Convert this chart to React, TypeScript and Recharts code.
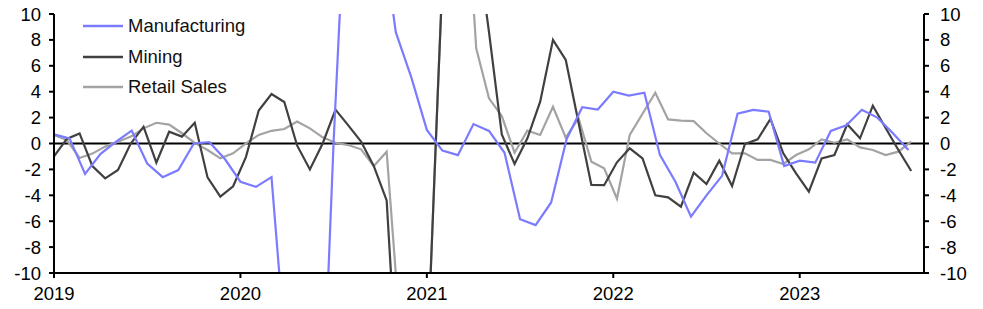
import React from 'react';
import { LineChart, Line, XAxis, YAxis, ReferenceLine } from 'recharts';

// monthly, Jan 2019 .. Aug 2023 (primary x axis)
const manufacturing = [
  0.7, 0.4, -2.35, -0.8, 0.15, 1.0, -1.55, -2.6, -2.05, 0.0, 0.1, -1.2,
  -2.95, -3.35, -2.6, -17.4, -24, -30, 0.2, 25, 26, 17.4, 8.6, 5.1,
  1.05, -0.55, -0.9, 1.5, 0.97, -0.72, -5.85, -6.3, -4.55, 0.35, 2.8, 2.62,
  4.0, 3.7, 3.92, -0.88, -2.95, -5.65, -4.0, -2.5, 2.3, 2.6, 2.45, -1.74,
  -1.33, -1.48, 0.97, 1.4, 2.6, 2.0, 0.8, -0.5,
];

// secondary series, plotted on their own (hidden) category axis
const mining = [
  -1.0, 0.35, 0.78, -1.74, -2.69, -2.05, 0.0, 1.3, -1.48, 0.91, 0.53, 1.6,
  -2.62, -4.1, -3.3, -1.05, 2.55, 3.82, 3.2, -0.15, -2.0, 0.0, 2.62, 1.4,
  0.15, -1.75, -4.4, -21, -25, -21, 4, 28, 25, 16, 8.6, 0.7,
  -1.58, 0.4, 3.23, 8.0, 6.45, 1.6, -3.2, -3.22, -1.45, -0.37, -1.15, -4.0,
  -4.16, -4.88, -2.25, -3.13, -1.33, -3.28, -0.04, 0.32, 1.9, -0.76, -2.3, -3.72,
  -1.15, -0.89, 1.48, 0.4, 2.92, 1.2, -0.5, -2.12,
];

const retailSales = [
  0.66, 0.27, -1.12, -0.78, -0.24, 0.14, 0.53, 1.17, 1.6, 1.46, 0.79, 0.05,
  -0.5, -1.15, -0.76, 0.0, 0.66, 0.98, 1.12, 1.69, 1.17, 0.48, 0.06, -0.12,
  -0.45, -1.74, -0.63, -13.8, -22, -21, 4, 28, 23, 7.35, 3.49, 2.12,
  -0.71, 0.99, 0.66, 2.84, 0.45, 1.95, -1.4, -1.92, -4.27, 0.66, 2.3, 3.92,
  1.86, 1.76, 1.73, 0.79, 0.0, -0.76, -0.76, -1.27, -1.27, -1.58, -0.89, -0.45,
  0.32, 0.06, 0.32, -0.3, -0.5, -0.89, -0.63, 0.14,
];

const years = ['2019', '2020', '2021', '2022', '2023'];
const yTicks = [-10, -8, -6, -4, -2, 0, 2, 4, 6, 8, 10];

const series = [
  { name: 'Manufacturing', color: '#7b7bff' },
  { name: 'Mining', color: '#404040' },
  { name: 'Retail Sales', color: '#a3a3a3' },
];

const FONT = '"Liberation Sans", Arial, sans-serif';
const FS = 18.5;

const toRows = (vals: number[]) => vals.map((v, i) => ({ x: i, v }));

export default function App() {
  const mfg = toRows(manufacturing);
  const min = toRows(mining);
  const ret = toRows(retailSales);

  // pull the chart up over the body margin so the top tick labels are not clipped
  return (
    <div style={{ position: 'relative', width: 967, height: 309, marginTop: -8, fontFamily: FONT }}>
      <LineChart width={967} height={309} margin={{ top: 14, right: 0, bottom: 8, left: 0 }}>
        <XAxis
          xAxisId='m'
          dataKey='x'
          type='number'
          domain={[0, 56]}
          ticks={[0, 12, 24, 36, 48]}
          interval={0}
          tickFormatter={(v: number) => years[v / 12]}
          height={28}
          tickSize={5}
          tickMargin={9}
          axisLine={{ stroke: '#000', strokeWidth: 2 }}
          tickLine={{ stroke: '#000', strokeWidth: 2 }}
          tick={{ fill: '#000', fontSize: FS, fontFamily: FONT }}
        />
        <XAxis xAxisId='s' dataKey='x' type='number' domain={[0, 68]} hide />
        <YAxis
          yAxisId='l'
          domain={[-10, 10]}
          ticks={yTicks}
          interval={0}
          allowDataOverflow
          width={46}
          tickSize={5}
          tickMargin={8}
          axisLine={{ stroke: '#000', strokeWidth: 2 }}
          tickLine={{ stroke: '#000', strokeWidth: 2 }}
          tick={{ fill: '#000', fontSize: FS, fontFamily: FONT }}
        />
        <YAxis
          yAxisId='r'
          orientation='right'
          domain={[-10, 10]}
          ticks={yTicks}
          interval={0}
          allowDataOverflow
          width={51}
          tickSize={5}
          tickMargin={11}
          axisLine={{ stroke: '#000', strokeWidth: 2 }}
          tickLine={{ stroke: '#000', strokeWidth: 2 }}
          tick={{ fill: '#000', fontSize: FS, fontFamily: FONT, textAnchor: 'start' }}
        />
        <ReferenceLine xAxisId='m' yAxisId='l' y={0} stroke='#000' strokeWidth={2} />
        <Line
          data={ret}
          xAxisId='s'
          yAxisId='r'
          dataKey='v'
          stroke={series[2].color}
          strokeWidth={2.2}
          dot={false}
          isAnimationActive={false}
        />
        <Line
          data={min}
          xAxisId='s'
          yAxisId='r'
          dataKey='v'
          stroke={series[1].color}
          strokeWidth={2.2}
          dot={false}
          isAnimationActive={false}
        />
        <Line
          data={mfg}
          xAxisId='m'
          yAxisId='l'
          dataKey='v'
          stroke={series[0].color}
          strokeWidth={2.2}
          dot={false}
          isAnimationActive={false}
        />
      </LineChart>
      <div style={{ position: 'absolute', left: 75, top: 11, fontSize: FS, color: '#111' }}>
        {series.map((s) => (
          <div key={s.name} style={{ display: 'flex', alignItems: 'center', height: 30.5 }}>
            <svg width={40} height={4} style={{ marginRight: 5 }}>
              <line x1={0} y1={2} x2={40} y2={2} stroke={s.color} strokeWidth={2.5} />
            </svg>
            <span>{s.name}</span>
          </div>
        ))}
      </div>
    </div>
  );
}
